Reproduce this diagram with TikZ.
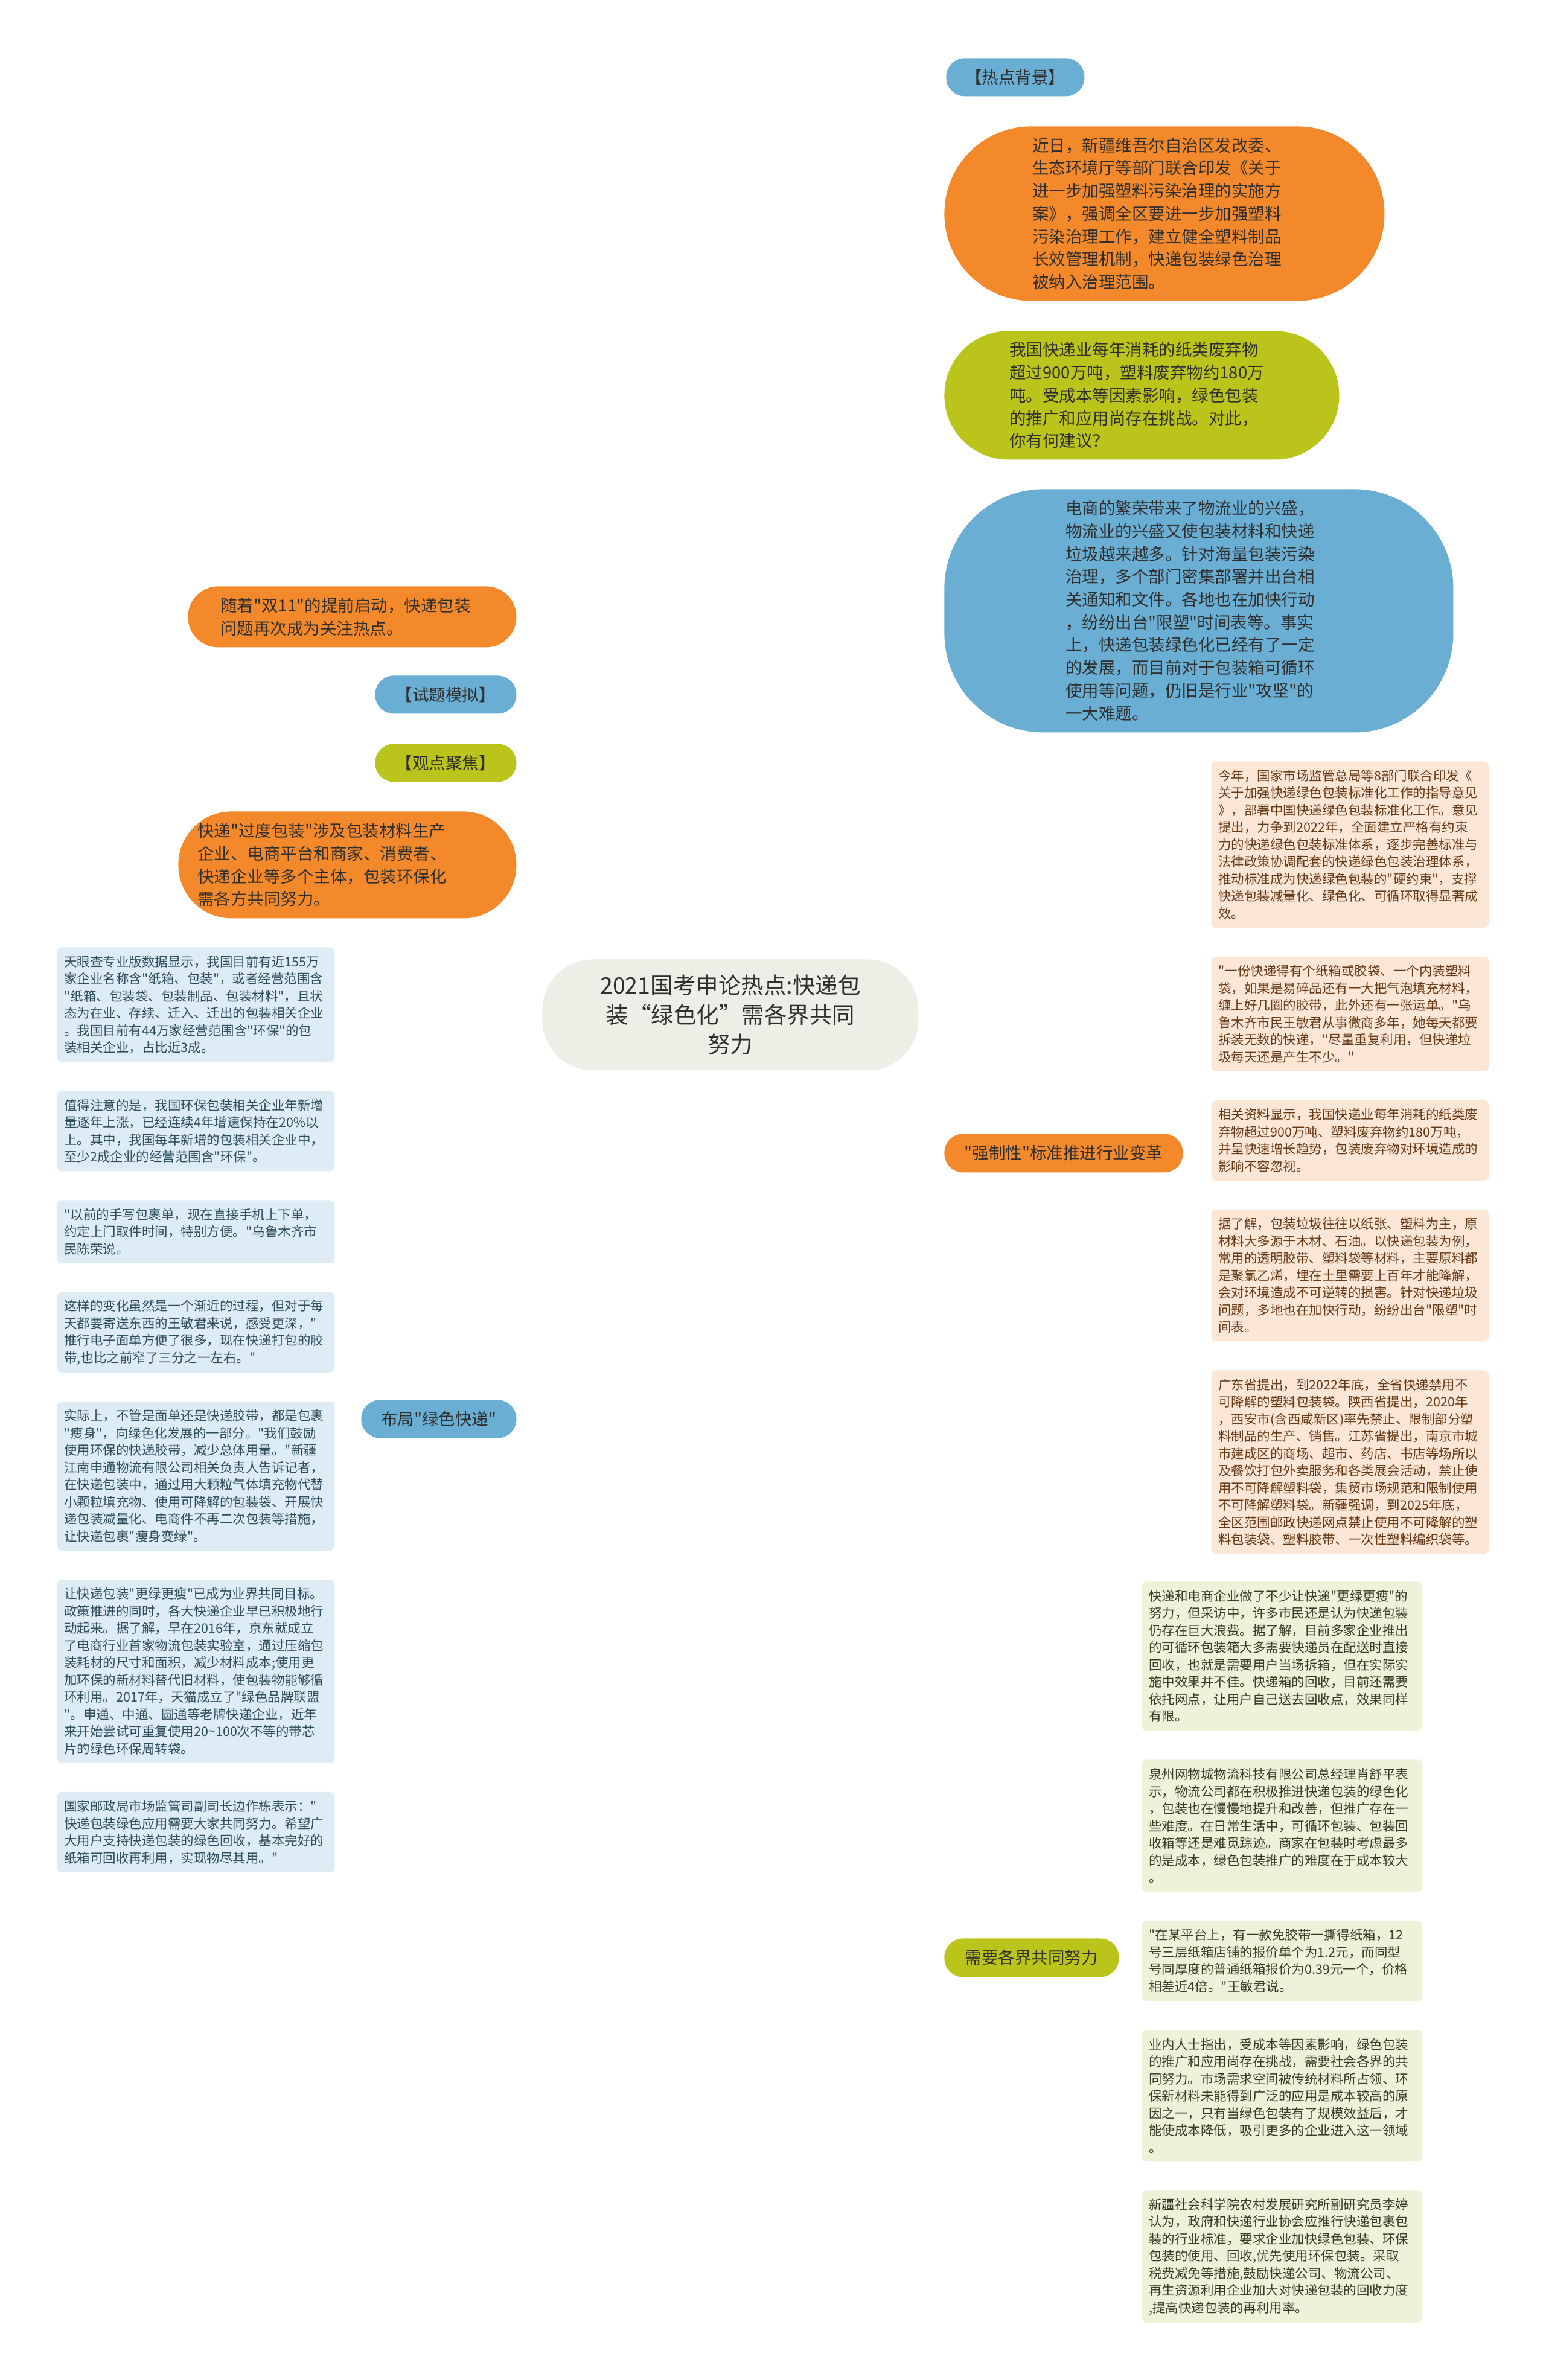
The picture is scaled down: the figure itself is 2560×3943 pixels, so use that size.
\documentclass[tikz,border=0pt]{standalone}
\usepackage{fontspec}
\setmainfont{Noto Sans CJK SC}[Ligatures=TeXOff]
\usetikzlibrary{backgrounds}
\setlength{\parindent}{0pt}
\definecolor{cblue}{HTML}{6AAFD3}
\definecolor{corange}{HTML}{F4892C}
\definecolor{cgreen}{HTML}{BAC41A}
\definecolor{ccenter}{HTML}{EEEEE6}
\definecolor{lorange}{HTML}{FCE6D6}
\definecolor{lblue}{HTML}{DEECF5}
\definecolor{lgreen}{HTML}{EFF1D9}
\definecolor{torange}{HTML}{673A16}
\definecolor{tblue}{HTML}{2E4E5E}
\definecolor{tgreen}{HTML}{3A3A2A}
\definecolor{tmain}{HTML}{2F2F2F}
\tikzset{
  mainbox/.style={anchor=north west, inner sep=1pt, align=left, text=tmain,
    font=\fontsize{13.75pt}{18.85pt}\selectfont},
  centerbox/.style={anchor=north west, inner sep=1pt, align=center, text=tmain,
    font=\fontsize{18.75pt}{24.5pt}\selectfont},
  leafbox/.style={anchor=north west, inner xsep=6pt, inner ysep=1pt, text width=218pt,
    align=left, rounded corners=4pt, font=\fontsize{10.75pt}{14.25pt}\selectfont},
  oleaf/.style={leafbox, fill=lorange, text=torange},
  bleaf/.style={leafbox, fill=lblue, text=tblue},
  gleaf/.style={leafbox, fill=lgreen, text=tgreen, text width=220.5pt},
  mline/.style={line width=1.4pt},
  lline/.style={line width=1.5pt},
}
\begin{document}
\begin{tikzpicture}[x=0.5pt,y=-0.5pt]
\fill[white] (0,0) rectangle (2560,3943);
\useasboundingbox (0,0) rectangle (2560,3943);

% centre
\node[centerbox, fill=ccenter, minimum width=311.5pt, minimum height=92pt, rounded corners=42pt] (c) at (898,1589)
 {2021国考申论热点:快递包\\装“绿色化”需各界共同\\努力};

% right first level
\node[mainbox, fill=cblue, minimum width=114.5pt, minimum height=31.5pt, rounded corners=15.5pt] (r1) at (1567,96) {【热点背景】};
\node[mainbox, fill=corange, inner xsep=73pt, text width=218.5pt, minimum height=144.5pt, rounded corners=72pt] (r2) at (1564,209)
 {近日，新疆维吾尔自治区发改委、\\生态环境厅等部门联合印发《关于\\进一步加强塑料污染治理的实施方\\案》，强调全区要进一步加强塑料\\污染治理工作，建立健全塑料制品\\长效管理机制，快递包装绿色治理\\被纳入治理范围。};
\node[mainbox, fill=cgreen, inner xsep=54pt, text width=219pt, minimum height=106.5pt, rounded corners=53pt] (r3) at (1564,548)
 {我国快递业每年消耗的纸类废弃物\\超过900万吨，塑料废弃物约180万\\吨。受成本等因素影响，绿色包装\\的推广和应用尚存在挑战。对此，\\你有何建议？};
\node[mainbox, fill=cblue, inner xsep=100.5pt, text width=220.5pt, minimum height=201.5pt, rounded corners=82pt] (r4) at (1564,810)
 {电商的繁荣带来了物流业的兴盛，\\物流业的兴盛又使包装材料和快递\\垃圾越来越多。针对海量包装污染\\治理，多个部门密集部署并出台相\\关通知和文件。各地也在加快行动\\，纷纷出台"限塑"时间表等。事实\\上，快递包装绿色化已经有了一定\\的发展，而目前对于包装箱可循环\\使用等问题，仍旧是行业"攻坚"的\\一大难题。};
\node[mainbox, fill=corange, minimum width=197.5pt, minimum height=32pt, rounded corners=15.5pt] (r5) at (1564,1878) {"强制性"标准推进行业变革};
\node[mainbox, fill=cgreen, minimum width=144.5pt, minimum height=32pt, rounded corners=15.5pt] (r6) at (1564,3211) {需要各界共同努力};

% left first level
\node[mainbox, fill=corange, inner xsep=27pt, text width=218pt, minimum height=50.5pt, rounded corners=25pt] (l1) at (311,971)
 {随着"双11"的提前启动，快递包装\\问题再次成为关注热点。};
\node[mainbox, fill=cblue, minimum width=117pt, minimum height=31.5pt, rounded corners=15.5pt] (l2) at (621,1119) {【试题模拟】};
\node[mainbox, fill=cgreen, minimum width=117pt, minimum height=31.5pt, rounded corners=15.5pt] (l3) at (621,1232) {【观点聚焦】};
\node[mainbox, fill=corange, inner xsep=16pt, text width=248pt, minimum height=88.5pt, rounded corners=44pt] (l4) at (295,1344)
 {快递"过度包装"涉及包装材料生产\\企业、电商平台和商家、消费者、\\快递企业等多个主体，包装环保化\\需各方共同努力。};
\node[mainbox, fill=cblue, minimum width=128.5pt, minimum height=31.5pt, rounded corners=15.5pt] (l5) at (598,2319) {布局"绿色快递"};

% orange leaves
\node[oleaf, minimum height=137.75pt] (la) at (2006,1261)
 {今年，国家市场监管总局等8部门联合印发《\\关于加强快递绿色包装标准化工作的指导意见\\》，部署中国快递绿色包装标准化工作。意见\\提出，力争到2022年，全面建立严格有约束\\力的快递绿色包装标准体系，逐步完善标准与\\法律政策协调配套的快递绿色包装治理体系，\\推动标准成为快递绿色包装的"硬约束"，支撑\\快递包装减量化、绿色化、可循环取得显著成\\效。};
\node[oleaf, minimum height=95pt] (lb) at (2006,1584.5)
 {"一份快递得有个纸箱或胶袋、一个内装塑料\\袋，如果是易碎品还有一大把气泡填充材料，\\缠上好几圈的胶带，此外还有一张运单。"乌\\鲁木齐市民王敏君从事微商多年，她每天都要\\拆装无数的快递，"尽量重复利用，但快递垃\\圾每天还是产生不少。"};
\node[oleaf, minimum height=66.5pt] (lc) at (2006,1822.5)
 {相关资料显示，我国快递业每年消耗的纸类废\\弃物超过900万吨、塑料废弃物约180万吨，\\并呈快速增长趋势，包装废弃物对环境造成的\\影响不容忽视。};
\node[oleaf, minimum height=109.25pt] (ld) at (2006,2003.5)
 {据了解，包装垃圾往往以纸张、塑料为主，原\\材料大多源于木材、石油。以快递包装为例，\\常用的透明胶带、塑料袋等材料，主要原料都\\是聚氯乙烯，埋在土里需要上百年才能降解，\\会对环境造成不可逆转的损害。针对快递垃圾\\问题，多地也在加快行动，纷纷出台"限塑"时\\间表。};
\node[oleaf, minimum height=152pt] (le) at (2006,2270)
 {广东省提出，到2022年底，全省快递禁用不\\可降解的塑料包装袋。陕西省提出，2020年\\，西安市(含西咸新区)率先禁止、限制部分塑\\料制品的生产、销售。江苏省提出，南京市城\\市建成区的商场、超市、药店、书店等场所以\\及餐饮打包外卖服务和各类展会活动，禁止使\\用不可降解塑料袋，集贸市场规范和限制使用\\不可降解塑料袋。新疆强调，到2025年底，\\全区范围邮政快递网点禁止使用不可降解的塑\\料包装袋、塑料胶带、一次性塑料编织袋等。};

% blue leaves
\node[bleaf, minimum height=95pt] (lf) at (94,1569)
 {天眼查专业版数据显示，我国目前有近155万\\家企业名称含"纸箱、包装"，或者经营范围含\\"纸箱、包装袋、包装制品、包装材料"，且状\\态为在业、存续、迁入、迁出的包装相关企业\\。我国目前有44万家经营范围含"环保"的包\\装相关企业，占比近3成。};
\node[bleaf, minimum height=66.5pt] (lg) at (94,1807)
 {值得注意的是，我国环保包装相关企业年新增\\量逐年上涨，已经连续4年增速保持在20\%以\\上。其中，我国每年新增的包装相关企业中，\\至少2成企业的经营范围含"环保"。};
\node[bleaf, minimum height=52.25pt] (lh) at (94,1988)
 {"以前的手写包裹单，现在直接手机上下单，\\约定上门取件时间，特别方便。"乌鲁木齐市\\民陈荣说。};
\node[bleaf, minimum height=66.5pt] (li) at (94,2140.5)
 {这样的变化虽然是一个渐近的过程，但对于每\\天都要寄送东西的王敏君来说，感受更深，"\\推行电子面单方便了很多，现在快递打包的胶\\带,也比之前窄了三分之一左右。"};
\node[bleaf, minimum height=123.5pt] (lj) at (94,2321.5)
 {实际上，不管是面单还是快递胶带，都是包裹\\"瘦身"，向绿色化发展的一部分。"我们鼓励\\使用环保的快递胶带，减少总体用量。"新疆\\江南申通物流有限公司相关负责人告诉记者，\\在快递包装中，通过用大颗粒气体填充物代替\\小颗粒填充物、使用可降解的包装袋、开展快\\递包装减量化、电商件不再二次包装等措施，\\让快递包裹"瘦身变绿"。};
\node[bleaf, minimum height=152pt] (lk) at (94,2616.5)
 {让快递包装"更绿更瘦"已成为业界共同目标。\\政策推进的同时，各大快递企业早已积极地行\\动起来。据了解，早在2016年，京东就成立\\了电商行业首家物流包装实验室，通过压缩包\\装耗材的尺寸和面积，减少材料成本;使用更\\加环保的新材料替代旧材料，使包装物能够循\\环利用。2017年，天猫成立了"绿色品牌联盟\\"。申通、中通、圆通等老牌快递企业，近年\\来开始尝试可重复使用20\textasciitilde100次不等的带芯\\片的绿色环保周转袋。};
\node[bleaf, minimum height=66.5pt] (ll) at (94,2968.5)
 {国家邮政局市场监管司副司长边作栋表示："\\快递包装绿色应用需要大家共同努力。希望广\\大用户支持快递包装的绿色回收，基本完好的\\纸箱可回收再利用，实现物尽其用。"};

% green leaves
\node[gleaf, minimum height=123.5pt] (lm) at (1891,2620)
 {快递和电商企业做了不少让快递"更绿更瘦"的\\努力，但采访中，许多市民还是认为快递包装\\仍存在巨大浪费。据了解，目前多家企业推出\\的可循环包装箱大多需要快递员在配送时直接\\回收，也就是需要用户当场拆箱，但在实际实\\施中效果并不佳。快递箱的回收，目前还需要\\依托网点，让用户自己送去回收点，效果同样\\有限。};
\node[gleaf, minimum height=109.25pt] (ln) at (1891,2915)
 {泉州网物城物流科技有限公司总经理肖舒平表\\示，物流公司都在积极推进快递包装的绿色化\\，包装也在慢慢地提升和改善，但推广存在一\\些难度。在日常生活中，可循环包装、包装回\\收箱等还是难觅踪迹。商家在包装时考虑最多\\的是成本，绿色包装推广的难度在于成本较大\\。};
\node[gleaf, minimum height=66.5pt] (lo) at (1891,3181.5)
 {"在某平台上，有一款免胶带一撕得纸箱，12\\号三层纸箱店铺的报价单个为1.2元，而同型\\号同厚度的普通纸箱报价为0.39元一个，价格\\相差近4倍。"王敏君说。};
\node[gleaf, minimum height=109.25pt] (lp) at (1891,3362.5)
 {业内人士指出，受成本等因素影响，绿色包装\\的推广和应用尚存在挑战，需要社会各界的共\\同努力。市场需求空间被传统材料所占领、环\\保新材料未能得到广泛的应用是成本较高的原\\因之一，只有当绿色包装有了规模效益后，才\\能使成本降低，吸引更多的企业进入这一领域\\。};
\node[gleaf, minimum height=109.25pt] (lq) at (1891,3629)
 {新疆社会科学院农村发展研究所副研究员李婷\\认为，政府和快递行业协会应推行快递包裹包\\装的行业标准，要求企业加快绿色包装、环保\\包装的使用、回收,优先使用环保包装。采取\\税费减免等措施,鼓励快递公司、物流公司、\\再生资源利用企业加大对快递包装的回收力度\\,提高快递包装的再利用率。};

\begin{scope}[on background layer]
% main connectors
\draw[mline, cblue] (c.north) .. controls +(0,-950) and +(-250,0) .. (r1.west);
\draw[mline, corange] (c.north) .. controls +(0,-803) and +(-248,0) .. (r2.west);
\draw[mline, cgreen] (c.north) .. controls +(0,-607) and +(-248,0) .. (r3.west);
\draw[mline, cblue] (c.north) .. controls +(0,-375) and +(-248,0) .. (r4.west);
\draw[mline, corange] (l1.east) .. controls +(248,0) and +(0,-369) .. (c.north);
\draw[mline, cblue] (l2.east) .. controls +(248,0) and +(0,-285) .. (c.north);
\draw[mline, cgreen] (l3.east) .. controls +(248,0) and +(0,-212) .. (c.north);
\draw[mline, corange] (l4.east) .. controls +(248,0) and +(0,-102) .. (c.north);
\draw[mline, corange] ([xshift=9pt]c.south) .. controls +(0,89) and +(-236,0) .. (r5.west);
\draw[mline, cblue] (c.south) .. controls +(0,375) and +(248,0) .. (l5.east);
\draw[mline, cgreen] (c.south) .. controls +(0,955) and +(-248,0) .. (r6.west);
% orange leaves
\draw[lline, corange] (r5.east) .. controls +(28,0) and +(-20,120) .. (la.west);
\draw[lline, corange] (r5.east) .. controls +(28,0) and +(-20,58) .. (lb.west);
\draw[lline, corange] (r5.east) .. controls +(28,0) and +(-20,5) .. (lc.west);
\draw[lline, corange] (r5.east) .. controls +(28,0) and +(-20,-50) .. (ld.west);
\draw[lline, corange] (r5.east) .. controls +(28,0) and +(-20,-120) .. (le.west);
% blue leaves
\draw[lline, cblue] (l5.west) .. controls +(-26,0) and +(20,120) .. (lf.east);
\draw[lline, cblue] (l5.west) .. controls +(-26,0) and +(20,119) .. (lg.east);
\draw[lline, cblue] (l5.west) .. controls +(-26,0) and +(20,77) .. (lh.east);
\draw[lline, cblue] (l5.west) .. controls +(-26,0) and +(20,36) .. (li.east);
\draw[lline, cblue] (l5.west) .. controls +(-26,0) and +(20,-24) .. (lj.east);
\draw[lline, cblue] (l5.west) .. controls +(-26,0) and +(20,-105) .. (lk.east);
\draw[lline, cblue] (l5.west) .. controls +(-26,0) and +(20,-120) .. (ll.east);
% green leaves
\draw[lline, cgreen] (r6.east) .. controls +(22,0) and +(-16,120) .. (lm.west);
\draw[lline, cgreen] (r6.east) .. controls +(22,0) and +(-16,55) .. (ln.west);
\draw[lline, cgreen] (r6.east) .. controls +(22,0) and +(-16,0) .. (lo.west);
\draw[lline, cgreen] (r6.east) .. controls +(22,0) and +(-16,-57) .. (lp.west);
\draw[lline, cgreen] (r6.east) .. controls +(22,0) and +(-16,-120) .. (lq.west);
\end{scope}
\end{tikzpicture}
\end{document}
